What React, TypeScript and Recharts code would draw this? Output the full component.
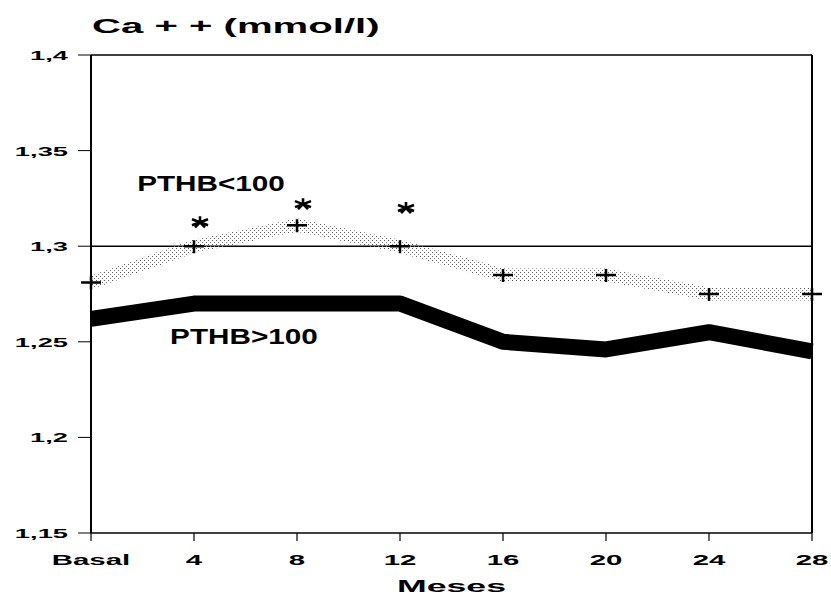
import { ComposedChart, Line, XAxis, YAxis, ReferenceLine, ReferenceDot } from 'recharts'

const months = [0, 4, 8, 12, 16, 20, 24, 28]
const monthLabels = ['Basal', '4', '8', '12', '16', '20', '24', '28']
const pthbLow = [1.281, 1.3, 1.311, 1.3, 1.285, 1.285, 1.275, 1.275]
const pthbHigh = [1.262, 1.27, 1.27, 1.27, 1.25, 1.246, 1.255, 1.245]
const signif = [null, 1.3125, 1.322, 1.32, null, null, null, null]
const yTicks = [1.15, 1.2, 1.25, 1.3, 1.35, 1.4]
const refValue = 1.3

const data = months.map((m, i) => ({ month: m, low: pthbLow[i], high: pthbHigh[i], star: signif[i] }))

const FONT = '"Liberation Sans", Arial, sans-serif'

const XTick = ({ x, y, payload }: any) => {
  const i = months.indexOf(payload.value)
  return (
    <g transform={`translate(${x},${y})`}>
      <text x={0} y={0} dy={22} textAnchor="middle" fontFamily={FONT} fontWeight={700} fontSize={14} fill="#000" transform="scale(2.1,1)">
        {monthLabels[i]}
      </text>
    </g>
  )
}

const YTick = ({ x, y, payload }: any) => (
  <g transform={`translate(${x},${y})`}>
    <text x={0} y={0} dy={5} textAnchor="end" fontFamily={FONT} fontWeight={700} fontSize={13} fill="#000" transform="scale(2.1,1)">
      {String(payload.value).replace('.', ',')}
    </text>
  </g>
)

const Plus = ({ cx, cy }: any) => {
  if (cx == null || cy == null) return null
  return <path d={`M${cx - 10},${cy}H${cx + 10}M${cx},${cy - 6}V${cy + 7}`} stroke="#000" strokeWidth={2.5} fill="none" />
}

const Star = ({ cx, cy }: any) => {
  if (cx == null || cy == null) return null
  const x = cx + 6
  return (
    <path
      d={`M${x - 8},${cy - 3}L${x + 8},${cy + 3}M${x - 8},${cy + 3}L${x + 8},${cy - 3}M${x},${cy - 6}V${cy + 1}M${x - 5},${cy + 5}L${x},${cy}L${x + 5},${cy + 5}`}
      stroke="#000" strokeWidth={2.6} fill="none"
    />
  )
}

const seriesLabel = (text: string) => (props: any) => {
  const vb = props.viewBox || {}
  const cx = vb.x + (vb.width || 0) / 2
  const cy = vb.y + (vb.height || 0) / 2
  return (
    <g transform={`translate(${cx},${cy})`}>
      <text x={0} y={0} dy={8} textAnchor="middle" fontFamily={FONT} fontWeight={700} fontSize={22} fill="#000" transform="scale(1.35,1)">
        {text}
      </text>
    </g>
  )
}

const mesesLabel = (props: any) => {
  const vb = props.viewBox || {}
  const cx = vb.x + vb.width / 2
  return (
    <g transform={`translate(${cx},${vb.y + 59})`}>
      <text x={0} y={0} textAnchor="middle" fontFamily={FONT} fontWeight={700} fontSize={17} fill="#000" transform="scale(2.1,1)">
        Meses
      </text>
    </g>
  )
}

export default function App() {
  return (
    <div style={{ position: 'absolute', left: 0, top: 0, width: 831, height: 595, background: '#fff' }}>
      <div
        style={{
          position: 'absolute', left: 92, top: 15, fontFamily: FONT, fontWeight: 700, fontSize: 21,
          lineHeight: '21px', transform: 'scaleX(1.91)', transformOrigin: 'left top', whiteSpace: 'nowrap', color: '#000',
        }}
      >
        Ca + + (mmol/l)
      </div>
      <ComposedChart width={831} height={595} data={data} margin={{ top: 55, right: 19, left: 0, bottom: 0 }}>
        <defs>
          <pattern id="stipple" width="4" height="4" patternUnits="userSpaceOnUse">
            <rect x="0" y="0" width="1" height="1" fill="#555" />
            <rect x="2" y="2" width="1" height="1" fill="#777" />
          </pattern>
        </defs>
        <XAxis
          dataKey="month" type="number" domain={[0, 28]} ticks={months} interval={0} height={62}
          tick={<XTick />} tickSize={8} tickMargin={2}
          axisLine={{ stroke: '#000', strokeWidth: 1.5 }} tickLine={{ stroke: '#000', strokeWidth: 1.2 }}
          label={mesesLabel}
        />
        <YAxis
          type="number" domain={[1.15, 1.4]} ticks={yTicks} interval={0} width={91}
          tick={<YTick />} tickSize={13} tickMargin={10}
          axisLine={{ stroke: '#000', strokeWidth: 2 }} tickLine={{ stroke: '#000', strokeWidth: 1 }}
        />
        <ReferenceLine y={1.4} stroke="#000" strokeWidth={1.5} />
        <ReferenceLine x={28} stroke="#000" strokeWidth={2} />
        <ReferenceLine y={refValue} stroke="#000" strokeWidth={1.5} />
        <Line dataKey="low" stroke="url(#stipple)" strokeWidth={13} dot={false} activeDot={false} isAnimationActive={false} />
        <Line dataKey="high" stroke="#000" strokeWidth={16} strokeLinejoin="round" dot={false} activeDot={false} isAnimationActive={false} />
        <Line dataKey="low" stroke="none" dot={<Plus />} activeDot={false} isAnimationActive={false} />
        <Line dataKey="star" stroke="none" dot={<Star />} activeDot={false} isAnimationActive={false} connectNulls={false} />
        <ReferenceDot x={4.66} y={1.333} r={0} fill="none" stroke="none" label={seriesLabel('PTHB<100')} />
        <ReferenceDot x={5.94} y={1.2533} r={0} fill="none" stroke="none" label={seriesLabel('PTHB>100')} />
      </ComposedChart>
    </div>
  )
}
